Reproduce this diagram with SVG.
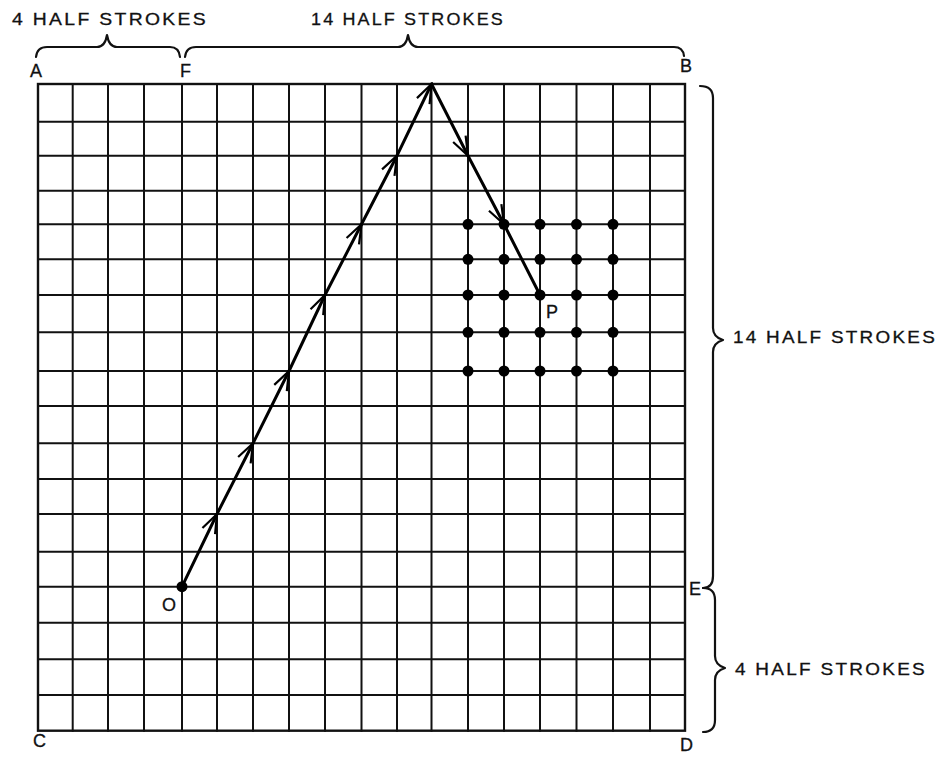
<svg xmlns="http://www.w3.org/2000/svg" width="946" height="757" viewBox="0 0 946 757">
<style>
.bg{fill:#fff}
.grid line{stroke:#111;stroke-width:2;stroke-linecap:square}
.border{fill:none;stroke:#111;stroke-width:2.4}
.brace{fill:none;stroke:#111;stroke-width:2.2;stroke-linecap:round;stroke-linejoin:round}
.ray{stroke:#000;stroke-width:3;fill:none;stroke-linecap:round}
.dot{fill:#000}
.cap{font-family:"Liberation Sans",Arial,sans-serif;font-size:16.5px;letter-spacing:2px;fill:#111;stroke:#111;stroke-width:0.3}
.lbl{font-family:"Liberation Sans",Arial,sans-serif;font-size:18px;fill:#111;stroke:#111;stroke-width:0.3}
</style>
<defs>
<marker id="chev" markerUnits="userSpaceOnUse" orient="auto" viewBox="-22 -9 24 18" refX="0" refY="0" markerWidth="24" markerHeight="18">
<path d="M-19,-7 L0,0 L-19,7" fill="none" stroke="#000" stroke-width="2.2" stroke-linejoin="miter"/>
</marker>
</defs>
<rect class="bg" x="0" y="0" width="946" height="757"/>

<g id="grid" class="grid">
<line x1="72.7" y1="84" x2="72.7" y2="730.7"/>
<line x1="108" y1="84" x2="108" y2="730.7"/>
<line x1="144" y1="84" x2="144" y2="730.7"/>
<line x1="182" y1="84" x2="182" y2="730.7"/>
<line x1="217" y1="84" x2="217" y2="730.7"/>
<line x1="253" y1="84" x2="253" y2="730.7"/>
<line x1="289" y1="84" x2="289" y2="730.7"/>
<line x1="325" y1="84" x2="325" y2="730.7"/>
<line x1="361.5" y1="84" x2="361.5" y2="730.7"/>
<line x1="397" y1="84" x2="397" y2="730.7"/>
<line x1="431.5" y1="84" x2="431.5" y2="730.7"/>
<line x1="468" y1="84" x2="468" y2="730.7"/>
<line x1="504" y1="84" x2="504" y2="730.7"/>
<line x1="540" y1="84" x2="540" y2="730.7"/>
<line x1="576.5" y1="84" x2="576.5" y2="730.7"/>
<line x1="613" y1="84" x2="613" y2="730.7"/>
<line x1="650" y1="84" x2="650" y2="730.7"/>
<line x1="38" y1="121.7" x2="685" y2="121.7"/>
<line x1="38" y1="155.7" x2="685" y2="155.7"/>
<line x1="38" y1="190.7" x2="685" y2="190.7"/>
<line x1="38" y1="224.3" x2="685" y2="224.3"/>
<line x1="38" y1="259.3" x2="685" y2="259.3"/>
<line x1="38" y1="295" x2="685" y2="295"/>
<line x1="38" y1="332.3" x2="685" y2="332.3"/>
<line x1="38" y1="371" x2="685" y2="371"/>
<line x1="38" y1="406" x2="685" y2="406"/>
<line x1="38" y1="443.3" x2="685" y2="443.3"/>
<line x1="38" y1="479" x2="685" y2="479"/>
<line x1="38" y1="514" x2="685" y2="514"/>
<line x1="38" y1="551.7" x2="685" y2="551.7"/>
<line x1="38" y1="586.7" x2="685" y2="586.7"/>
<line x1="38" y1="622.7" x2="685" y2="622.7"/>
<line x1="38" y1="659.3" x2="685" y2="659.3"/>
<line x1="38" y1="695" x2="685" y2="695"/>
<rect class="border" x="38" y="84" width="647" height="646.7"/>
</g>

<g id="braces" class="brace">
<path d="M36,57 Q37,47 47,47 L97,47 Q105,47 107,35 Q109,47 117,47 L170,47 Q179,47 180,57"/>
<path d="M185,57 Q186,47 196,47 L398,47 Q406,47 408,35 Q410,47 418,47 L674,47 Q683,47 684,56"/>
<path d="M700,86 Q713,86 713,98 L713,328 Q713,337 723,340 Q713,343 713,352 L713,576 Q713,588 703,588"/>
<path d="M703,588 Q715,588 715,600 L715,656 Q715,665 725,668 Q715,671 715,680 L715,720 Q715,732 703,732"/>
</g>

<g id="connectors">
<line class="ray" x1="182" y1="586.7" x2="217" y2="514" marker-end="url(#chev)"/>
<line class="ray" x1="217" y1="514" x2="253" y2="443.3" marker-end="url(#chev)"/>
<line class="ray" x1="253" y1="443.3" x2="289" y2="371" marker-end="url(#chev)"/>
<line class="ray" x1="289" y1="371" x2="325" y2="295" marker-end="url(#chev)"/>
<line class="ray" x1="325" y1="295" x2="361.5" y2="224.3" marker-end="url(#chev)"/>
<line class="ray" x1="361.5" y1="224.3" x2="397" y2="155.7" marker-end="url(#chev)"/>
<line class="ray" x1="397" y1="155.7" x2="431.5" y2="84" marker-end="url(#chev)"/>
<line class="ray" x1="431.5" y1="84" x2="468" y2="155.7" marker-end="url(#chev)"/>
<line class="ray" x1="468" y1="155.7" x2="504" y2="224.3" marker-end="url(#chev)"/>
<line class="ray" x1="504" y1="224.3" x2="540" y2="295"/>
</g>

<g id="points">
<circle class="dot" cx="182" cy="586.7" r="5.5"/>
<circle class="dot" cx="468" cy="224.3" r="5.5"/>
<circle class="dot" cx="504" cy="224.3" r="5.5"/>
<circle class="dot" cx="540" cy="224.3" r="5.5"/>
<circle class="dot" cx="576.5" cy="224.3" r="5.5"/>
<circle class="dot" cx="613" cy="224.3" r="5.5"/>
<circle class="dot" cx="468" cy="259.3" r="5.5"/>
<circle class="dot" cx="504" cy="259.3" r="5.5"/>
<circle class="dot" cx="540" cy="259.3" r="5.5"/>
<circle class="dot" cx="576.5" cy="259.3" r="5.5"/>
<circle class="dot" cx="613" cy="259.3" r="5.5"/>
<circle class="dot" cx="468" cy="295" r="5.5"/>
<circle class="dot" cx="504" cy="295" r="5.5"/>
<circle class="dot" cx="540" cy="295" r="5.5"/>
<circle class="dot" cx="576.5" cy="295" r="5.5"/>
<circle class="dot" cx="613" cy="295" r="5.5"/>
<circle class="dot" cx="468" cy="332.3" r="5.5"/>
<circle class="dot" cx="504" cy="332.3" r="5.5"/>
<circle class="dot" cx="540" cy="332.3" r="5.5"/>
<circle class="dot" cx="576.5" cy="332.3" r="5.5"/>
<circle class="dot" cx="613" cy="332.3" r="5.5"/>
<circle class="dot" cx="468" cy="371" r="5.5"/>
<circle class="dot" cx="504" cy="371" r="5.5"/>
<circle class="dot" cx="540" cy="371" r="5.5"/>
<circle class="dot" cx="576.5" cy="371" r="5.5"/>
<circle class="dot" cx="613" cy="371" r="5.5"/>
</g>

<g id="labels">
<text class="cap" x="12" y="25" textLength="196" lengthAdjust="spacingAndGlyphs">4 HALF STROKES</text>
<text class="cap" x="311" y="25" textLength="194" lengthAdjust="spacingAndGlyphs">14 HALF STROKES</text>
<text class="cap" x="733" y="343" textLength="204" lengthAdjust="spacingAndGlyphs">14 HALF STROKES</text>
<text class="cap" x="735" y="675" textLength="192" lengthAdjust="spacingAndGlyphs">4 HALF STROKES</text>
<text class="lbl" x="30" y="77">A</text>
<text class="lbl" x="180" y="77">F</text>
<text class="lbl" x="680" y="72">B</text>
<text class="lbl" x="33" y="747">C</text>
<text class="lbl" x="680" y="751">D</text>
<text class="lbl" x="689" y="595">E</text>
<text class="lbl" x="546" y="318">P</text>
<text class="lbl" x="162" y="611">O</text>
</g>
</svg>
